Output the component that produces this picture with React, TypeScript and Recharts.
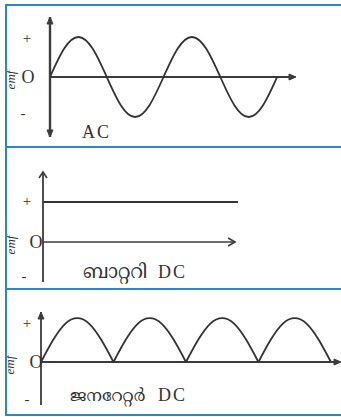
import React from 'react';
import { ComposedChart, Line, XAxis, YAxis, ReferenceLine, ReferenceDot } from 'recharts';

// AC emf: two full cycles, read every 45 degrees
const acPhase = [0, 45, 90, 135, 180, 225, 270, 315, 360, 405, 450, 495, 540, 585, 630, 675, 720];
const acEmf = [0, 0.71, 1, 0.71, 0, -0.71, -1, -0.71, 0, 0.71, 1, 0.71, 0, -0.71, -1, -0.71, 0];

// battery DC: steady emf
const batteryTime = [0, 10];
const batteryEmf = [1, 1];

// generator DC: one rectified half wave, repeated four times
const archPhase = [0, 30, 60, 90, 120, 150, 180];
const archEmf = [0, 0.5, 0.87, 1, 0.87, 0.5, 0];
const archStarts = [0, 180, 360, 540];

// the + / O / - marks on each emf axis
const acSignTicks = [0.97, 0, -0.9];
const batterySignTicks = [1.02, 0, -0.85];
const generatorSignTicks = [0.89, 0, -0.84];

const INK = '#333';
const AXIS = '#3c3c3c';
const BORDER = '#2d87c3';
const SERIF = '"Liberation Serif", "DejaVu Serif", serif';
const MALAYALAM = '"Noto Serif Malayalam", "Noto Sans Malayalam", "Liberation Serif", serif';

const acRows = acPhase.map((t, i) => ({ t, emf: acEmf[i] }));
const batteryRows = batteryTime.map((t, i) => ({ t, emf: batteryEmf[i] }));

// each arch gets its own key so the curve breaks (sharp cusp) at every zero
const generatorRows = Array.from(new Set(archStarts.flatMap((s) => archPhase.map((p) => s + p))))
  .sort((a, b) => a - b)
  .map((t) => {
    const row: Record<string, number | null> = { t };
    archStarts.forEach((s, k) => {
      const idx = archPhase.indexOf(t - s);
      row[`arch${k}`] = idx >= 0 ? archEmf[idx] : null;
    });
    return row;
  });

type Dir = 'up' | 'down' | 'right';

const arrowHead = (dir: Dir, filled: boolean, len = 8, half = 3.5) => (props: any) => {
  const { cx, cy } = props;
  let pts: [number, number][];
  if (dir === 'up') pts = [[cx - half, cy + len], [cx, cy], [cx + half, cy + len]];
  else if (dir === 'down') pts = [[cx - half, cy - len], [cx, cy], [cx + half, cy - len]];
  else pts = [[cx - len, cy - half], [cx, cy], [cx - len, cy + half]];
  const d = pts.map((p) => p.join(',')).join(' ');
  return filled ? (
    <polygon points={d} fill={AXIS} stroke={AXIS} strokeWidth={1} />
  ) : (
    <polyline points={d} fill="none" stroke={AXIS} strokeWidth={1.6} />
  );
};

// centres: x position of the +, O and - marks
const signTick = (centres: [number, number, number]) => (props: any) => {
  const { y, payload } = props;
  const v = payload.value;
  const label = v > 0 ? '+' : v < 0 ? '-' : 'O';
  const x = v > 0 ? centres[0] : v < 0 ? centres[2] : centres[1];
  return (
    <text
      x={x}
      y={y}
      textAnchor="middle"
      dominantBaseline="central"
      fontFamily={SERIF}
      fontSize={v === 0 ? 18 : 15}
      fill={INK}
    >
      {label}
    </text>
  );
};

const emfLabel = (props: any) => {
  const { cy } = props;
  return (
    <text
      x={10}
      y={cy + 3}
      transform={`rotate(-90 10 ${cy + 3})`}
      textAnchor="middle"
      dominantBaseline="central"
      fontFamily={SERIF}
      fontStyle="italic"
      fontSize={13}
      fill={INK}
    >
      emf
    </text>
  );
};

const Frame: React.FC = () => (
  <>
    <div style={{ position: 'absolute', left: 5, top: 4, width: 2, height: 412, background: BORDER }} />
    {[4, 146, 288, 414].map((y) => (
      <div key={y} style={{ position: 'absolute', left: 5, top: y, width: 336, height: 2, background: BORDER }} />
    ))}
  </>
);

const App: React.FC = () => (
  <div style={{ position: 'absolute', left: 0, top: 0, width: 341, height: 417, background: '#fff', overflow: 'hidden' }}>
    {/* AC */}
    <div style={{ position: 'absolute', left: 0, top: 0 }}>
      <ComposedChart width={341} height={146} data={acRows} margin={{ top: 17, right: 45, bottom: 9, left: 0 }}>
        <XAxis type="number" dataKey="t" domain={[0, 780]} hide />
        <YAxis
          width={50}
          domain={[-1.5, 1.5]}
          ticks={acSignTicks}
          tick={signTick([27, 28, 23])}
          tickLine={false}
          axisLine={{ stroke: AXIS, strokeWidth: 2.4 }}
          interval={0}
        />
        <ReferenceLine segment={[{ x: 0, y: 0 }, { x: 776, y: 0 }]} stroke={AXIS} strokeWidth={1.8} ifOverflow="visible" />
        <ReferenceDot x={0} y={1.5} ifOverflow="visible" shape={arrowHead('up', true, 7, 3)} />
        <ReferenceDot x={0} y={-1.5} ifOverflow="visible" shape={arrowHead('down', true, 7, 3)} />
        <ReferenceDot x={780} y={0} ifOverflow="visible" shape={arrowHead('right', true, 7, 3)} />
        <ReferenceDot x={0} y={0} ifOverflow="visible" shape={emfLabel} />
        <Line type="natural" dataKey="emf" stroke={INK} strokeWidth={1.8} dot={false} isAnimationActive={false} />
        <text x={82} y={138} fontFamily={SERIF} fontSize={18} letterSpacing={2} fill={INK}>
          AC
        </text>
      </ComposedChart>
    </div>

    {/* battery DC */}
    <div style={{ position: 'absolute', left: 0, top: 147 }}>
      <ComposedChart width={341} height={141} data={batteryRows} margin={{ top: 25, right: 103, bottom: 6, left: 0 }}>
        <XAxis type="number" dataKey="t" domain={[0, 10]} hide />
        <YAxis
          width={43}
          domain={[-1, 1.75]}
          ticks={batterySignTicks}
          tick={signTick([27, 36, 24])}
          tickLine={false}
          axisLine={{ stroke: AXIS, strokeWidth: 1.8 }}
          interval={0}
        />
        <ReferenceLine segment={[{ x: 0, y: 0 }, { x: 9.85, y: 0 }]} stroke={AXIS} strokeWidth={1.6} ifOverflow="visible" />
        <ReferenceDot x={0} y={1.75} ifOverflow="visible" shape={arrowHead('up', false, 6, 4)} />
        <ReferenceDot x={9.85} y={0} ifOverflow="visible" shape={arrowHead('right', false, 7, 4)} />
        <ReferenceDot x={0} y={0} ifOverflow="visible" shape={emfLabel} />
        <Line type="linear" dataKey="emf" stroke={INK} strokeWidth={1.8} dot={false} isAnimationActive={false} />
        <text x={83} y={131} fill={INK}>
          <tspan fontFamily={MALAYALAM} fontSize={19}>ബാറ്ററി</tspan>
          <tspan x={158} fontFamily={SERIF} fontSize={18} letterSpacing={2}>DC</tspan>
        </text>
      </ComposedChart>
    </div>

    {/* generator DC */}
    <div style={{ position: 'absolute', left: 0, top: 289 }}>
      <ComposedChart width={341} height={128} data={generatorRows} margin={{ top: 23, right: 0, bottom: 12, left: 0 }}>
        <XAxis type="number" dataKey="t" domain={[0, 745]} hide />
        <YAxis
          width={41}
          domain={[-0.98, 1.14]}
          ticks={generatorSignTicks}
          tick={signTick([27, 36, 27])}
          tickLine={false}
          axisLine={{ stroke: AXIS, strokeWidth: 1.8 }}
          interval={0}
        />
        <ReferenceLine segment={[{ x: 0, y: 0 }, { x: 740, y: 0 }]} stroke={AXIS} strokeWidth={1.8} ifOverflow="visible" />
        <ReferenceDot x={0} y={1.14} ifOverflow="visible" shape={arrowHead('up', true, 7, 3)} />
        <ReferenceDot x={745} y={0} ifOverflow="visible" shape={arrowHead('right', true, 7, 3)} />
        <ReferenceDot x={0} y={0} ifOverflow="visible" shape={emfLabel} />
        {archStarts.map((_, k) => (
          <Line
            key={k}
            type="natural"
            dataKey={`arch${k}`}
            stroke={INK}
            strokeWidth={1.8}
            dot={false}
            isAnimationActive={false}
          />
        ))}
        <text x={70} y={112} fill={INK}>
          <tspan fontFamily={MALAYALAM} fontSize={17}>ജനറേറ്റർ</tspan>
          <tspan x={158} fontFamily={SERIF} fontSize={18} letterSpacing={2}>DC</tspan>
        </text>
      </ComposedChart>
    </div>

    <Frame />
  </div>
);

export default App;
